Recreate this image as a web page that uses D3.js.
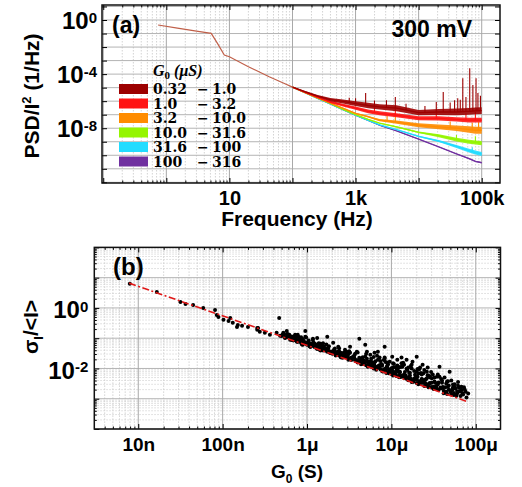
<!DOCTYPE html>
<html><head><meta charset="utf-8">
<script src="https://cdn.jsdelivr.net/npm/d3@7"></script>
<style>
body{margin:0;background:#fff}
svg{display:block;background:#fff}
text{font-family:"Liberation Sans",Arial,sans-serif;font-weight:bold;fill:#000}
</style>
</head><body>
<svg id="chart" width="522" height="487"></svg>
<script>
// ---------------- Panel (a) data ----------------
const freqLow = [0.74, 1.5, 3, 5.15, 6.5, 8.3, 10, 20, 42.7, 70, 100];           // Hz
const logPsdLow = [-0.37, -0.6, -0.82, -0.99, -1.75, -2.59, -2.72, -3.45, -4.2, -4.64, -4.96];
const freqHigh = [100, 158, 251, 398, 631, 1000, 1585, 2400, 4470, 10000, 20900, 39800, 63100, 79400, 100000];
const legendLeft  = ["0.32", "1.0", "3.2", "10.0", "31.6", "100"];
const legendRight = ["1.0", "3.2", "10.0", "31.6", "100", "316"];
const seriesColors = ["#9c0000", "#ff1414", "#ff8c00", "#94f500", "#22dcff", "#7030a0"];
const logPsdDarkRed = [-4.96, -5.30, -5.62, -5.88, -6.02, -6.18, -6.32, -6.42, -6.52, -6.85, -6.80, -6.80, -6.75, -6.72, -6.70];
const logPsdRed     = [-4.96, -5.35, -5.72, -6.05, -6.30, -6.52, -6.75, -6.90, -7.04, -7.26, -7.27, -7.35, -7.40, -7.40, -7.40];
const logPsdOrange  = [-4.96, -5.36, -5.75, -6.14, -6.52, -6.90, -7.15, -7.40, -7.55, -7.78, -7.90, -8.00, -8.10, -8.15, -8.15];
const logPsdGreen   = [-4.96, -5.37, -5.77, -6.17, -6.60, -7.00, -7.35, -7.63, -7.90, -8.30, -8.55, -8.85, -9.00, -9.05, -9.10];
const logPsdCyan    = [-4.96, -5.38, -5.79, -6.20, -6.62, -7.04, -7.42, -7.75, -8.10, -8.60, -8.95, -9.35, -9.65, -9.80, -9.90];
const logPsdPurple  = [-4.96, -5.38, -5.79, -6.21, -6.62, -7.04, -7.42, -7.78, -8.20, -8.80, -9.38, -9.90, -10.25, -10.45, -10.55];
const noiseDarkRed = [0.02, 0.05, 0.08, 0.12, 0.15, 0.18, 0.20, 0.20, 0.22, 0.20, 0.22, 0.25, 0.25, 0.25, 0.25];
const noiseRed     = [0.02, 0.03, 0.05, 0.08, 0.10, 0.12, 0.14, 0.15, 0.15, 0.15, 0.15, 0.16, 0.17, 0.17, 0.17];
const noiseOrange  = [0.02, 0.03, 0.03, 0.04, 0.04, 0.04, 0.05, 0.08, 0.12, 0.15, 0.18, 0.20, 0.24, 0.25, 0.25];
const noiseGreen   = [0.02, 0.02, 0.03, 0.03, 0.03, 0.03, 0.03, 0.03, 0.04, 0.06, 0.11, 0.14, 0.15, 0.15, 0.15];
const noiseCyan    = [0.02, 0.02, 0.02, 0.02, 0.02, 0.03, 0.03, 0.03, 0.03, 0.04, 0.07, 0.11, 0.14, 0.15, 0.15];
const noisePurple  = [0.02, 0.02, 0.02, 0.02, 0.02, 0.03, 0.03, 0.03, 0.03, 0.03, 0.03, 0.03, 0.04, 0.05, 0.05];
// spikes: [frequency Hz, log10 peak PSD]
const spikesDarkRed = [[794,-5.75],[1000,-5.78],[1445,-5.4],[1995,-5.95],[3090,-5.93],[4270,-5.7],[6310,-6.2],[12590,-6.35],
  [19050,-6.07],[24550,-5.33],[31620,-6.1],[37150,-5.93],[41690,-5.78],[45710,-5.9],[50120,-4.3],[56230,-5.7],
  [64570,-3.56],[72440,-4.81],[81280,-4.3],[87100,-5.4],[95500,-5.6]];
const spikesRed = [[1995,-6.45],[4270,-6.44],[19050,-6.67],[56230,-6.9],[79430,-6.8]];
const spikesOrange = [[3160,-7.1],[4270,-6.9],[31620,-7.5],[70790,-7.6],[89100,-7.55]];
const spikesGreen = [[39810,-8.5],[79430,-8.6]];
const spikesCyan = [[70790,-9.4]];

// ---------------- Panel (b) data ----------------
// [log10 G0 (S), log10 sigma_I/<I>]
const scatterLog = [
 [-8.10,0.80],[-7.78,0.53],[-7.50,0.20],[-7.44,0.13],[-7.35,0.10],[-7.23,0.00],[-7.09,-0.07],[-7.07,-0.23],[-7.05,-0.30],
 [-6.99,-0.39],[-6.93,-0.43],[-6.91,-0.33],[-6.88,-0.49],[-6.83,-0.63],[-6.82,-0.56],[-6.77,-0.59],[-6.70,-0.63],[-6.59,-0.72],[-6.58,-0.66],
 [-6.33,-0.33],[-6.59,-0.66],[-6.56,-0.79],[-6.50,-0.82],[-6.44,-0.89],[-6.36,-0.82],[-6.32,-0.92],[-6.28,-0.82],[-6.24,-0.76],[-6.26,-0.99],
 [-6.20,-1.05],[-6.12,-1.12],[-6.11,-0.89],[-6.02,-0.76],[-6.02,-0.95],[-6.05,-1.22],[-5.99,-1.15],[-5.96,-1.28],[-5.93,-1.02],[-5.88,-0.99],
 [-5.88,-1.32],[-5.85,-1.38],[-5.81,-1.28],[-5.76,-0.95],[-5.76,-1.45],[-5.69,-1.15],[-5.67,-1.45],[-5.73,-1.48],[-5.63,-1.28],[-5.61,-1.55],
 [-5.55,-1.38],[-5.53,-1.61],[-5.49,-1.48],[-5.49,-1.28],[-5.46,-1.64],[-5.41,-1.45],[-5.38,-1.02],[-5.37,-1.71],[-5.31,-1.22],[-5.29,-1.45],
 [-5.28,-1.78],[-5.25,-1.55],[-5.22,-1.81],[-5.20,-1.48],[-5.16,-1.45],[-5.14,-1.64],[-5.11,-1.88],[-5.08,-1.28],[-5.08,-1.64],[-5.05,-1.94],
 [-5.02,-1.78],[-4.99,-1.61],[-4.98,-1.97],[-4.93,-1.71],[-4.92,-1.94],[-4.90,-2.11],[-4.88,-1.64],[-4.86,-1.81],[-4.82,-1.71],[-4.80,-1.97],
 [-4.78,-2.14],[-4.76,-1.88],[-4.75,-1.78],[-4.70,-1.61],[-4.70,-2.11],[-4.69,-2.27],[-4.66,-1.97],[-4.64,-2.20],[-4.63,-1.88],[-4.60,-2.37],
 [-4.58,-2.11],[-4.57,-1.97],[-4.54,-2.30],[-4.52,-2.47],[-4.51,-2.20],[-4.49,-2.43],[-4.46,-2.27],[-4.45,-2.53],[-4.43,-1.94],[-4.40,-2.47],
 [-4.39,-2.63],[-4.34,-2.43],[-4.33,-2.60],[-4.31,-2.11],[-4.28,-2.70],[-4.27,-2.53],[-4.25,-2.63],[-4.22,-2.76],[-4.21,-2.57],[-4.17,-2.60],
 [-4.15,-2.86],[-4.13,-2.70],[-4.09,-2.83],
 [-6.22,-0.97],[-6.18,-0.94],[-6.16,-1.08],[-6.14,-0.90],[-6.10,-1.06],[-6.08,-1.01],[-6.06,-1.21],[-6.04,-1.10],[-6.01,-1.18],[-5.98,-1.08],
 [-5.97,-1.27],[-5.95,-1.19],[-5.93,-1.06],[-5.91,-1.29],[-5.90,-1.20],[-5.87,-1.29],[-5.86,-1.17],[-5.84,-1.41],[-5.82,-1.31],[-5.80,-1.27],
 [-5.78,-1.41],[-5.76,-1.35],[-5.74,-1.27],[-5.72,-1.49],[-5.70,-1.44],[-5.68,-1.38],[-5.66,-1.52],[-5.64,-1.46],[-5.62,-1.33],[-5.60,-1.63],
 [-5.58,-1.55],[-5.56,-1.47],[-5.54,-1.63],[-5.52,-1.57],[-5.50,-1.43],[-5.48,-1.71],[-5.46,-1.64],[-5.44,-1.56],[-5.42,-1.73],[-5.40,-1.47],
 [-5.38,-1.69],[-5.36,-1.84],[-5.34,-1.63],[-5.32,-1.80],[-5.30,-1.52],[-5.28,-1.89],[-5.26,-1.78],[-5.24,-1.68],[-5.22,-1.92],[-5.20,-1.80],
 [-5.18,-2.04],[-5.16,-1.71],[-5.14,-1.95],[-5.12,-1.85],[-5.10,-2.07],[-5.08,-1.68],[-5.06,-1.98],[-5.04,-1.87],[-5.02,-2.11],[-5.00,-1.99],
 [-4.98,-1.83],[-4.96,-2.13],[-4.94,-2.25],[-4.92,-1.99],[-4.90,-2.13],[-4.88,-1.83],[-4.86,-2.27],[-4.84,-2.12],[-4.82,-2.01],[-4.80,-2.31],
 [-4.78,-2.23],[-4.76,-2.00],[-4.74,-2.44],[-4.72,-2.21],[-4.70,-2.36],[-4.68,-2.17],[-4.66,-2.48],[-4.64,-2.36],[-4.62,-2.16],[-4.60,-2.48],
 [-4.58,-2.32],[-4.56,-2.62],[-4.54,-2.48],[-4.52,-2.32],[-4.50,-2.60],[-4.48,-2.47],[-4.46,-2.69],[-4.44,-2.46],[-4.42,-2.63],[-4.40,-2.40],
 [-4.38,-2.74],[-4.36,-2.62],[-4.34,-2.84],[-4.32,-2.56],[-4.30,-2.78],[-4.28,-2.71],[-4.26,-2.88],[-4.24,-2.67],[-4.22,-2.82],[-4.20,-2.64],
 [-4.18,-2.91],[-4.16,-2.81],[-4.12,-2.77],[-4.11,-2.96],
 [-6.12,-1.09],[-6.07,-0.97],[-6.03,-1.14],[-5.99,-1.13],[-5.96,-1.26],[-5.92,-1.15],[-5.88,-1.35],[-5.85,-1.28],[-5.81,-1.17],[-5.79,-1.39],
 [-5.75,-1.33],[-5.71,-1.45],[-5.67,-1.34],[-5.63,-1.56],[-5.59,-1.49],[-5.55,-1.60],[-5.51,-1.52],[-5.47,-1.65],[-5.43,-1.51],[-5.39,-1.78],
 [-5.35,-1.69],[-5.31,-1.61],[-5.27,-1.83],[-5.23,-1.94],[-5.19,-1.76],[-5.15,-1.97],[-5.11,-1.91],[-5.07,-1.79],[-5.03,-2.16],[-4.99,-2.07],
 [-4.95,-1.96],[-4.91,-2.24],[-4.87,-1.94],[-4.83,-2.23],[-4.79,-2.14],[-4.75,-2.41],[-4.71,-2.28],[-4.67,-2.03],[-4.63,-2.47],[-4.59,-2.36],
 [-4.55,-2.25],[-4.47,-2.58],[-4.43,-2.27],[-4.39,-2.61],[-4.35,-2.50],[-4.27,-2.62],[-4.23,-2.88],[-4.19,-2.75],
 [-6.30,-0.93],[-6.27,-0.87],[-6.24,-0.95],[-6.21,-0.89],[-6.18,-1.06],[-6.15,-1.01],[-6.12,-0.94],[-6.09,-1.11],[-6.06,-1.06],[-6.03,-1.15],
 [-6.00,-1.22],[-5.97,-1.17],[-5.94,-1.25],[-5.91,-1.19],[-5.88,-1.35],[-5.85,-1.30],[-5.82,-1.23],[-5.79,-1.40],[-5.76,-1.35],[-5.73,-1.44],
 [-5.70,-1.51],[-5.67,-1.46],[-5.64,-1.54],[-5.61,-1.48],[-5.58,-1.65],[-5.55,-1.60],[-5.52,-1.53],[-5.49,-1.69],[-5.46,-1.64],[-5.43,-1.73],
 [-5.40,-1.80],[-5.37,-1.75],[-5.34,-1.83],[-5.31,-1.77],[-5.28,-1.94],[-5.25,-1.89],[-5.22,-1.82],[-5.19,-1.99],[-5.16,-1.94],[-5.13,-2.03],
 [-5.10,-2.10],[-5.07,-2.04],[-5.04,-2.12],[-5.01,-2.06],[-4.98,-2.23],[-4.95,-2.18],[-4.92,-2.11],[-4.89,-2.28],[-4.86,-2.23],[-4.83,-2.32],
 [-4.80,-2.39],[-4.77,-2.34],[-4.74,-2.42],[-4.71,-2.36],[-4.68,-2.52],[-4.65,-2.47],[-4.62,-2.40],[-4.59,-2.57],[-4.56,-2.52],[-4.53,-2.61],
 [-4.50,-2.68],[-4.47,-2.63],[-4.44,-2.71],[-4.41,-2.65],[-4.38,-2.82],[-4.35,-2.77],[-4.32,-2.70],[-4.29,-2.86],[-4.26,-2.81],[-4.23,-2.90],
 [-6.29,-0.88],[-6.26,-0.98],[-6.23,-0.86],[-6.20,-1.01],[-6.17,-0.96],[-6.14,-0.89],[-6.11,-1.12],[-6.08,-1.07],[-6.05,-1.03],[-6.02,-1.17],
 [-5.99,-1.18],[-5.96,-1.28],[-5.93,-1.16],[-5.90,-1.31],[-5.87,-1.25],[-5.84,-1.18],[-5.81,-1.41],[-5.78,-1.36],[-5.75,-1.32],[-5.72,-1.46],
 [-5.69,-1.47],[-5.66,-1.57],[-5.63,-1.45],[-5.60,-1.60],[-5.57,-1.55],[-5.54,-1.48],[-5.51,-1.71],[-5.48,-1.65],[-5.45,-1.61],[-5.42,-1.75],
 [-5.39,-1.76],[-5.36,-1.86],[-5.33,-1.74],[-5.30,-1.89],[-5.27,-1.84],[-5.24,-1.77],[-5.21,-2.00],[-5.18,-1.95],[-5.15,-1.91],[-5.12,-2.05],
 [-5.09,-2.05],[-5.06,-2.15],[-5.03,-2.03],[-5.00,-2.18],[-4.97,-2.13],[-4.94,-2.06],[-4.91,-2.29],[-4.88,-2.24],[-4.85,-2.20],[-4.82,-2.34],
 [-4.79,-2.35],[-4.76,-2.45],[-4.73,-2.33],[-4.70,-2.48],[-4.67,-2.42],[-4.64,-2.35],[-4.61,-2.58],[-4.58,-2.53],[-4.55,-2.49],[-4.52,-2.63],
 [-6.19,-1.01],[-6.16,-0.95],[-6.13,-1.03],[-6.10,-0.95],[-6.07,-1.15],[-6.04,-1.09],[-6.01,-0.98],[-5.98,-1.20],[-5.95,-1.25],[-5.92,-1.19],
 [-5.89,-1.27],[-5.86,-1.18],[-5.83,-1.38],[-5.80,-1.32],[-5.77,-1.21],[-5.74,-1.43],[-5.71,-1.48],[-5.68,-1.42],[-5.65,-1.50],[-5.62,-1.42],
 [-5.59,-1.62],[-5.56,-1.56],[-5.53,-1.45],[-5.50,-1.67],[-5.47,-1.71],[-5.44,-1.65],[-5.41,-1.73],[-5.38,-1.65],[-5.35,-1.85],[-5.32,-1.79],
 [-5.29,-1.68],[-5.26,-1.90],[-5.23,-1.95],[-5.20,-1.89],[-5.17,-1.97],[-5.14,-1.89],[-5.11,-2.09],[-5.08,-2.02],[-5.05,-1.91],[-5.02,-2.13],
 [-4.97,-1.85],[-4.93,-1.90],[-4.89,-1.95],[-4.85,-1.88],[-4.81,-2.05],[-4.77,-1.92],[-4.73,-2.08],[-4.69,-2.02],[-4.65,-2.15],[-4.61,-2.05],
 [-4.57,-2.22],[-4.53,-2.12],[-4.49,-2.30],[-4.45,-2.20],[-4.41,-2.35],[-4.37,-2.30],[-4.33,-2.42],[-4.29,-2.40],[-4.25,-2.52],[-4.21,-2.45],
 [-4.17,-2.70],[-4.14,-2.62],[-5.21,-1.62],[-5.17,-1.58],[-5.13,-1.75],[-5.09,-1.72],[-5.05,-1.80]
];
const fitG = [7.8e-9, 8.1e-5];
const fitSigma = [6.6, 7.9e-4];

// ---------------- drawing ----------------
const svg = d3.select("#chart");

const A = {l:102, r:500, t:5, b:183};
const xA = d3.scaleLog().domain([Math.pow(10,-1.02), Math.pow(10,5.29)]).range([A.l, A.r]);
const yA = d3.scaleLog().domain([Math.pow(10,-12.05), Math.pow(10,1.11)]).range([A.b, A.t]);
const B = {l:94.3, r:500.5, t:247.4, b:429};
const xB = d3.scaleLog().domain([Math.pow(10,-8.521), Math.pow(10,-3.707)]).range([B.l, B.r]);
const yB = d3.scaleLog().domain([1e-4, 1e2]).range([B.b, B.t]);

function decades(lo, hi){ const v=[]; for(let k=lo;k<=hi;k++) v.push(Math.pow(10,k)); return v; }
function minors(lo, hi, dom){ const v=[]; for(let k=lo;k<=hi;k++) for(let m=2;m<=9;m++){const t=m*Math.pow(10,k); if(t>dom[0]&&t<dom[1]) v.push(t);} return v; }

function grid(g, xs, ys, box, xMaj, xMin, yMaj, yMin){
  const gg = g.append("g");
  gg.selectAll(".xmin").data(xMin).join("line").attr("x1",d=>xs(d)).attr("x2",d=>xs(d)).attr("y1",box.t).attr("y2",box.b)
    .attr("stroke","#c8c8c8").attr("stroke-width",0.8).attr("stroke-dasharray","1.5,1.5");
  if(yMin) gg.selectAll(".ymin").data(yMin).join("line").attr("y1",d=>ys(d)).attr("y2",d=>ys(d)).attr("x1",box.l).attr("x2",box.r)
    .attr("stroke","#d0d0d0").attr("stroke-width",0.8).attr("stroke-dasharray","1.5,1.5");
  gg.selectAll(".ymaj").data(yMaj).join("line").attr("y1",d=>ys(d)).attr("y2",d=>ys(d)).attr("x1",box.l).attr("x2",box.r)
    .attr("stroke","#b4b4b4").attr("stroke-width",1);
  gg.selectAll(".xmaj").data(xMaj).join("line").attr("x1",d=>xs(d)).attr("x2",d=>xs(d)).attr("y1",box.t).attr("y2",box.b)
    .attr("stroke","#a8a8a8").attr("stroke-width",1);
}

function tickAxis(g, axisGen, transform, values, size){
  const a = g.append("g").attr("transform",transform)
    .call(axisGen.tickValues(values).tickSizeInner(-size).tickSizeOuter(0).tickFormat(()=>""));
  a.select(".domain").remove();
  a.selectAll(".tick line").attr("stroke","#000").attr("stroke-width",1);
  return a;
}

function frameTicks(g, xs, ys, box, xMaj, xMin, yMaj, yMin){
  tickAxis(g, d3.axisBottom(xs), `translate(0,${box.b})`, xMaj, 5);
  tickAxis(g, d3.axisBottom(xs), `translate(0,${box.b})`, xMin, 2.5);
  tickAxis(g, d3.axisTop(xs), `translate(0,${box.t})`, xMaj, 5);
  tickAxis(g, d3.axisTop(xs), `translate(0,${box.t})`, xMin, 2.5);
  tickAxis(g, d3.axisLeft(ys), `translate(${box.l},0)`, yMaj, 5);
  tickAxis(g, d3.axisRight(ys), `translate(${box.r},0)`, yMaj, 5);
  if(yMin){
    tickAxis(g, d3.axisLeft(ys), `translate(${box.l},0)`, yMin, 2.5);
    tickAxis(g, d3.axisRight(ys), `translate(${box.r},0)`, yMin, 2.5);
  }
}

function xLabels(g, xs, y, values, fmt, pad, fs){
  const a = g.append("g").attr("transform",`translate(0,${y})`)
    .call(d3.axisBottom(xs).tickValues(values).tickSize(0).tickPadding(pad).tickFormat(fmt));
  a.select(".domain").remove();
  a.selectAll("text").attr("font-size",fs).attr("font-family","Liberation Sans, Arial, sans-serif").attr("font-weight","bold").attr("fill","#000");
}
function yLabels(g, ys, x, values, pad, fs, dy){
  const a = g.append("g").attr("transform",`translate(${x},0)`)
    .call(d3.axisLeft(ys).tickValues(values).tickSize(0).tickPadding(pad).tickFormat(()=>""));
  a.select(".domain").remove();
  a.selectAll(".tick text").attr("font-size",fs).attr("font-family","Liberation Sans, Arial, sans-serif")
    .attr("font-weight","bold").attr("fill","#000").attr("dy",dy)
    .each(function(d){
      const t = d3.select(this);
      const e = Math.round(Math.log10(d));
      t.append("tspan").text("10");
      t.append("tspan").attr("font-size",15).attr("dy","-0.42em").text(e<0? "-"+(-e) : String(e));
    });
}

// ---------- Panel (a) ----------
const gA = svg.append("g");
grid(gA, xA, yA, A, decades(-1,5), minors(-2,5,xA.domain()), decades(-12,1), null);

const lineLog = (fx) => d3.line().x((d,i)=>xA(fx[i])).y(d=>yA(Math.pow(10,d)));
const series = [
  {v:logPsdDarkRed, n:noiseDarkRed, s:spikesDarkRed, c:seriesColors[0]},
  {v:logPsdRed, n:noiseRed, s:spikesRed, c:seriesColors[1]},
  {v:logPsdOrange, n:noiseOrange, s:spikesOrange, c:seriesColors[2]},
  {v:logPsdGreen, n:noiseGreen, s:spikesGreen, c:seriesColors[3]},
  {v:logPsdCyan, n:noiseCyan, s:spikesCyan, c:seriesColors[4]},
  {v:logPsdPurple, n:noisePurple, s:[], c:seriesColors[5]}
];
const curves = gA.append("g");
series.slice().reverse().forEach(sr=>{
  const area = d3.area().x((d,i)=>xA(freqHigh[i]))
    .y0((d,i)=>yA(Math.pow(10,d - sr.n[i]))).y1((d,i)=>yA(Math.pow(10,d + sr.n[i])));
  curves.append("path").datum(sr.v).attr("d",area).attr("fill",sr.c).attr("opacity",0.9);
  curves.append("path").datum(sr.v).attr("d",lineLog(freqHigh)).attr("fill","none").attr("stroke",sr.c).attr("stroke-width",1.3);
  const base = d3.scaleLog().domain(freqHigh).range(sr.v);
  curves.selectAll(null).data(sr.s).join("line")
    .attr("x1",d=>xA(d[0])).attr("x2",d=>xA(d[0]))
    .attr("y1",d=>yA(Math.pow(10,base(d[0])))).attr("y2",d=>yA(Math.pow(10,d[1])))
    .attr("stroke",sr.c).attr("stroke-width",1.1);
});
curves.append("path").datum(logPsdLow).attr("d",lineLog(freqLow)).attr("fill","none").attr("stroke","#c0604a").attr("stroke-width",1.2);

frameTicks(gA, xA, yA, A, decades(-1,5), minors(-2,5,xA.domain()), decades(-12,1), null);
xLabels(gA, xA, A.b, [10,1e3,1e5], d=>({10:"10",1000:"1k",100000:"100k"})[d], 8, 20);
yLabels(gA, yA, A.l, [1,1e-4,1e-8], 5, 24, "0.36em");
gA.append("rect").attr("x",A.l).attr("y",A.t).attr("width",A.r-A.l).attr("height",A.b-A.t)
  .attr("fill","none").attr("stroke","#111").attr("stroke-width",1.5);

// legend
const leg = gA.append("g");
const legTitle = leg.append("text").attr("x",153).attr("y",76)
  .style("font-family","'Liberation Serif','Times New Roman',serif").style("font-style","italic").attr("font-size",16);
legTitle.append("tspan").text("G");
legTitle.append("tspan").attr("font-size",11).attr("dy",3).style("font-style","normal").text("0");
legTitle.append("tspan").attr("dy",-3).text(" (μS)");
const rowY = d3.range(6).map(i=>89 + i*14.5);
leg.selectAll("rect.sw").data(seriesColors).join("rect").attr("class","sw")
  .attr("x",119).attr("y",(d,i)=>rowY[i]-5).attr("width",29).attr("height",10).attr("fill",d=>d);
const serif = "'DejaVu Serif',serif";
leg.selectAll("text.l").data(legendLeft).join("text").attr("class","l").attr("x",153).attr("y",(d,i)=>rowY[i]+5)
  .attr("font-size",14).style("font-family",serif).text(d=>d);
leg.selectAll("text.m").data(legendLeft).join("text").attr("class","m").attr("x",197).attr("y",(d,i)=>rowY[i]+5)
  .attr("font-size",14).style("font-family",serif).text("−");
leg.selectAll("text.r").data(legendRight).join("text").attr("class","r").attr("x",212).attr("y",(d,i)=>rowY[i]+5)
  .attr("font-size",14).style("font-family",serif).text(d=>d);

gA.append("text").attr("x",112).attr("y",33).attr("font-size",23).text("(a)");
gA.append("text").attr("x",472).attr("y",37).attr("text-anchor","end").attr("font-size",23).text("300 mV");
gA.append("text").attr("x",297).attr("y",226).attr("text-anchor","middle").attr("font-size",21).text("Frequency (Hz)");
const yt = gA.append("text").attr("transform","translate(39,96) rotate(-90)").attr("text-anchor","middle").attr("font-size",21);
yt.append("tspan").text("PSD/I");
yt.append("tspan").attr("font-size",13).attr("dy",-8).text("2");
yt.append("tspan").attr("dy",8).text(" (1/Hz)");

// ---------- Panel (b) ----------
const gB = svg.append("g");
grid(gB, xB, yB, B, decades(-8,-4), minors(-9,-4,xB.domain()), decades(-4,2), minors(-4,1,yB.domain()));
gB.append("g").selectAll("circle").data(scatterLog).join("circle")
  .attr("cx",d=>xB(Math.pow(10,d[0]))).attr("cy",d=>yB(Math.pow(10,d[1]))).attr("r",2).attr("fill","#000");
gB.append("path").datum(d3.zip(fitG, fitSigma))
  .attr("d",d3.line().x(d=>xB(d[0])).y(d=>yB(d[1])))
  .attr("fill","none").attr("stroke","#e01818").attr("stroke-width",1.6).attr("stroke-dasharray","7,2.5,2,2.5");
frameTicks(gB, xB, yB, B, decades(-8,-4), minors(-9,-4,xB.domain()), decades(-4,2), minors(-4,1,yB.domain()));
xLabels(gB, xB, B.b, [1e-8,1e-7,1e-6,1e-5,1e-4], d=>({"-8":"10n","-7":"100n","-6":"1μ","-5":"10μ","-4":"100μ"})[Math.round(Math.log10(d))], 8.5, 19);
yLabels(gB, yB, B.l, [1,1e-2], 6, 24, "0.4em");
gB.append("rect").attr("x",B.l).attr("y",B.t).attr("width",B.r-B.l).attr("height",B.b-B.t)
  .attr("fill","none").attr("stroke","#111").attr("stroke-width",1.5);

gB.append("text").attr("x",113).attr("y",275).attr("font-size",24).text("(b)");
const xt = gB.append("text").attr("x",297).attr("y",478).attr("text-anchor","middle").attr("font-size",19);
xt.append("tspan").text("G");
xt.append("tspan").attr("font-size",12).attr("dy",5).text("0");
xt.append("tspan").attr("dy",-5).text(" (S)");
const st = gB.append("text").attr("transform","translate(38,327) rotate(-90)").attr("text-anchor","middle").attr("font-size",21);
st.append("tspan").text("σ");
st.append("tspan").attr("font-size",13).attr("dy",5).text("I");
st.append("tspan").attr("dy",-5).text("/<I>");
</script>
</body></html>
